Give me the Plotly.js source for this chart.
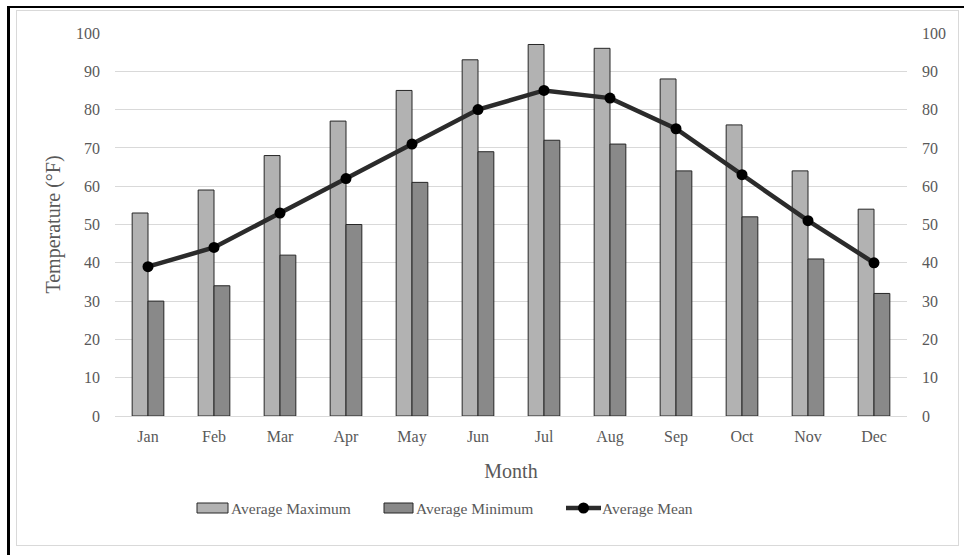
<!DOCTYPE html>
<html>
<head>
<meta charset="utf-8">
<script src="https://cdn.plot.ly/plotly-3.0.1.min.js"></script>
<style>
html,body{margin:0;padding:0;background:#fff;}
#wrap{position:relative;width:964px;height:555px;overflow:hidden;}
#chart{position:absolute;left:0;top:0;width:964px;height:555px;}
#outer{position:absolute;left:7px;top:6px;width:970px;height:560px;border-left:3px solid #000;border-top:2px solid #000;pointer-events:none;}
#inner{position:absolute;left:16px;top:10px;width:941px;height:534px;border:1px solid #d9d9d9;pointer-events:none;}
</style>
</head>
<body>
<div id="wrap">
<div id="chart"></div>
<div id="inner"></div>
<div id="outer"></div>
</div>
<script>
var months = ["Jan","Feb","Mar","Apr","May","Jun","Jul","Aug","Sep","Oct","Nov","Dec"];
var avgMax = [53,59,68,77,85,93,97,96,88,76,64,54];
var avgMin = [30,34,42,50,61,69,72,71,64,52,41,32];
var avgMean = [39,44,53,62,71,80,85,83,75,63,51,40];
var tickVals = [0,10,20,30,40,50,60,70,80,90,100];
var seriesNames = ["Average Maximum","Average Minimum","Average Mean"];

var font = "Liberation Serif, Times New Roman, serif";
var txt = "#595959";
var maxColor = "#b2b2b2", minColor = "#898989", edge = "#262626", meanColor = "#2b2b2b";

// plot area geometry (pixels) used to place the hand-drawn legend
var L = 115, R = 57, T = 33, B = 139, W = 964, H = 555;
var pw = W - L - R, ph = H - T - B;
function px(x){ return (x - L) / pw; }
function py(y){ return (H - B - y) / ph; }

var traces = [
  {type:"bar", name:seriesNames[0], x:months, y:avgMax, showlegend:false,
   marker:{color:maxColor, line:{color:edge, width:1}}},
  {type:"bar", name:seriesNames[1], x:months, y:avgMin, showlegend:false,
   marker:{color:minColor, line:{color:edge, width:1}}},
  {type:"scatter", mode:"lines+markers", name:seriesNames[2], x:months, y:avgMean, showlegend:false,
   yaxis:"y2",
   line:{color:meanColor, width:4.5},
   marker:{color:"#000", size:11}}
];

var legY = 508;
var shapes = [
  {type:"rect", xref:"paper", yref:"paper", x0:px(197), x1:px(228), y0:py(503), y1:py(513),
   fillcolor:maxColor, line:{color:edge, width:1}},
  {type:"rect", xref:"paper", yref:"paper", x0:px(384), x1:px(413), y0:py(503), y1:py(513),
   fillcolor:minColor, line:{color:edge, width:1}},
  {type:"line", xref:"paper", yref:"paper", x0:px(566), x1:px(601), y0:py(legY), y1:py(legY),
   line:{color:meanColor, width:4.5}},
  {type:"circle", xref:"paper", yref:"paper", x0:px(578), x1:px(589), y0:py(legY-5.5), y1:py(legY+5.5),
   fillcolor:"#000", line:{color:"#000", width:0}}
];
var annotations = [
  {xref:"paper", yref:"paper", x:px(229), y:py(legY), xanchor:"left", yanchor:"middle", showarrow:false,
   text:seriesNames[0], font:{family:font, size:15.5, color:txt}},
  {xref:"paper", yref:"paper", x:px(414), y:py(legY), xanchor:"left", yanchor:"middle", showarrow:false,
   text:seriesNames[1], font:{family:font, size:15.5, color:txt}},
  {xref:"paper", yref:"paper", x:px(600), y:py(legY), xanchor:"left", yanchor:"middle", showarrow:false,
   text:seriesNames[2], font:{family:font, size:15.5, color:txt}}
];

var layout = {
  width:W, height:H,
  margin:{l:L, r:R, t:T, b:B, autoexpand:false},
  paper_bgcolor:"rgba(0,0,0,0)", plot_bgcolor:"rgba(0,0,0,0)",
  barmode:"group", bargap:0.52, bargroupgap:0,
  font:{family:font, color:txt, size:16},
  showlegend:false,
  shapes:shapes, annotations:annotations,
  xaxis:{range:[-0.5, 11.5], showgrid:false, showline:true, linecolor:"#d9d9d9", linewidth:1, ticks:"",
         tickfont:{family:font, size:16, color:txt}, ticklabelstandoff:6,
         title:{text:"Month", font:{family:font, size:20, color:txt}, standoff:18}},
  yaxis:{range:[0,100], tickvals:tickVals, showgrid:true, gridcolor:"#d9d9d9", gridwidth:1,
         zeroline:false, showline:false, ticks:"", ticklabelstandoff:14,
         tickfont:{family:font, size:16, color:txt},
         title:{text:"Temperature (°F)", font:{family:font, size:20, color:txt}, standoff:10}},
  yaxis2:{range:[0,100], tickvals:tickVals, overlaying:"y", side:"right", showgrid:false,
          zeroline:false, showline:false, ticks:"", ticklabelstandoff:14,
          tickfont:{family:font, size:16, color:txt}}
};

Plotly.newPlot("chart", traces, layout, {displayModeBar:false, staticPlot:true});
</script>
</body>
</html>
